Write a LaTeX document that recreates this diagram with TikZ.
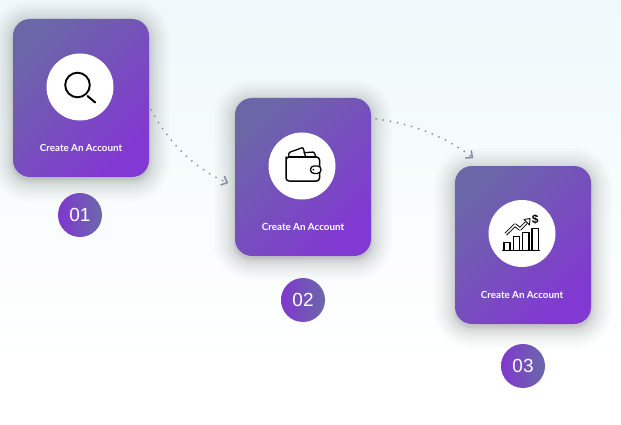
\documentclass[tikz,border=0pt]{standalone}
\usepackage{fontspec}
\setmainfont{Lato}
\newfontfamily\numfont{Liberation Sans}
\newfontfamily\capfont{Lato}
\usetikzlibrary{arrows.meta}
\definecolor{cardA}{HTML}{6B66A8}
\definecolor{cardB}{HTML}{8238D2}
\definecolor{numA}{HTML}{8038CE}
\definecolor{numB}{HTML}{6A68AA}
\definecolor{dotc}{HTML}{858BA6}
\definecolor{bgtop}{HTML}{F0F8FB}
\definecolor{bgmid}{HTML}{F7FCFD}
\tikzset{
  cardbox/.style={rectangle,rounded corners=17pt,minimum width=136pt,minimum height=158pt,inner sep=0pt,outer sep=0pt,
    shading=axis,top color=cardA,bottom color=cardB,shading angle=45},
  iconcircle/.style={circle,fill=white,minimum size=67pt,inner sep=0pt,outer sep=0pt},
  numbadge/.style={circle,minimum size=44pt,inner sep=0pt,outer sep=0pt,shading=axis,left color=numA,right color=numB,
    text=white,font=\numfont\fontsize{19}{21}\selectfont},
  captiontext/.style={text=white,inner sep=0pt,font=\capfont\bfseries\fontsize{9.8}{11}\selectfont},
  flowdots/.style={draw=dotc,line width=2pt,line cap=round,dash pattern=on 0pt off 7.3pt,
    -{Straight Barb[length=5pt,width=9pt,line width=1.5pt,round]}},
  iconline/.style={draw=black,line width=1.3pt,line join=round,line cap=round}
}
\newcommand{\cardshadow}[2]{%
  \foreach \k in {14,13,...,1}{
    \pgfmathsetmacro{\e}{\k*\k/9.5}
    \pgfmathsetmacro{\r}{17+\e}
    \fill[black,opacity=0.016,rounded corners=\r pt]
      (#1-68-\e,#2-79-\e+3) rectangle (#1+68+\e,#2+79+\e+3);
  }%
}
\begin{document}
\begin{tikzpicture}[x=1pt,y=-1pt]
\useasboundingbox (0,0) rectangle (621,425);
\shade[top color=bgtop,bottom color=white,middle color=bgmid] (0,0) rectangle (621,360);
\fill[white] (0,360) rectangle (621,425);
\cardshadow{81}{98}
\cardshadow{303}{177}
\cardshadow{523}{245}
\node[cardbox] (c1) at (81,98) {};
\node[cardbox] (c2) at (303,177) {};
\node[cardbox] (c3) at (523,245) {};
\node[iconcircle] (w1) at (80,87) {};
\node[iconcircle] (w2) at (302,166) {};
\node[iconcircle] (w3) at (522,233.5) {};
\node[captiontext] (t1) at (81,148) {Create An Account};
\node[captiontext] (t2) at (303,227) {Create An Account};
\node[captiontext] (t3) at (522,295) {Create An Account};
\node[numbadge] (n1) at (80,215) {01};
\node[numbadge] (n2) at (303,300) {02};
\node[numbadge] (n3) at (523,366) {03};
% connectors
\coordinate (a1) at (151,110);
\coordinate (a2) at (228,183);
\coordinate (b1) at (376,119);
\coordinate (b2) at (473,158);
\draw[flowdots] (a1) .. controls (172,148) and (198,170) .. (a2);
\draw[flowdots] (b1) .. controls (410,123) and (445,136) .. (b2);
% magnifier
\draw[black,line width=1.9pt] (77.5,85) circle (12.3pt);
\draw[black,line width=2pt,line cap=round] (87.5,96) -- (95.2,102.5);
% wallet
\draw[iconline,line width=1.5pt,rounded corners=3pt] (286,160) -- (286,181) -- (319.5,181) -- (319.5,157) -- (286,157) -- cycle;
\draw[iconline,fill=white,rounded corners=3.5pt] (321,166) -- (310.5,166) -- (310.5,173.4) -- (321,173.4) -- cycle;
\fill[black] (313.3,169.7) circle (0.9pt);
\draw[iconline,rounded corners=1pt] (288.5,156.5) -- (289,152.5) -- (303,147.4) -- (305.5,156.5);
\draw[iconline,rounded corners=1pt] (304,152.7) -- (314,152) -- (315.7,156.5);
% chart
\draw[iconline,line width=1.1pt] (504,250.5) rectangle (510,242.3);
\draw[iconline,line width=1.1pt] (513.3,250.5) rectangle (519.7,236.7);
\draw[iconline,line width=1.1pt] (522.7,250.5) rectangle (529,232.3);
\draw[iconline,line width=1.1pt] (532,250.5) rectangle (538.3,228.3);
\draw[iconline] (502.7,250.8) -- (539.3,250.8);
\draw[iconline,line width=3.4pt,line cap=butt] (505.7,234.2) -- (515,225) -- (520,229) -- (526,223);
\draw[white,line width=1.5pt] (505.2,234.7) -- (515,225) -- (520,229) -- (526,223);
\draw[black,fill=white,line width=0.9pt,line join=round] (524,219.5) -- (530,218.5) -- (529.5,225) -- cycle;
\node[inner sep=0pt,text=black,font=\numfont\bfseries\fontsize{12}{12}\selectfont] (dollar) at (535.2,219.5) {\$};
\end{tikzpicture}
\end{document}
